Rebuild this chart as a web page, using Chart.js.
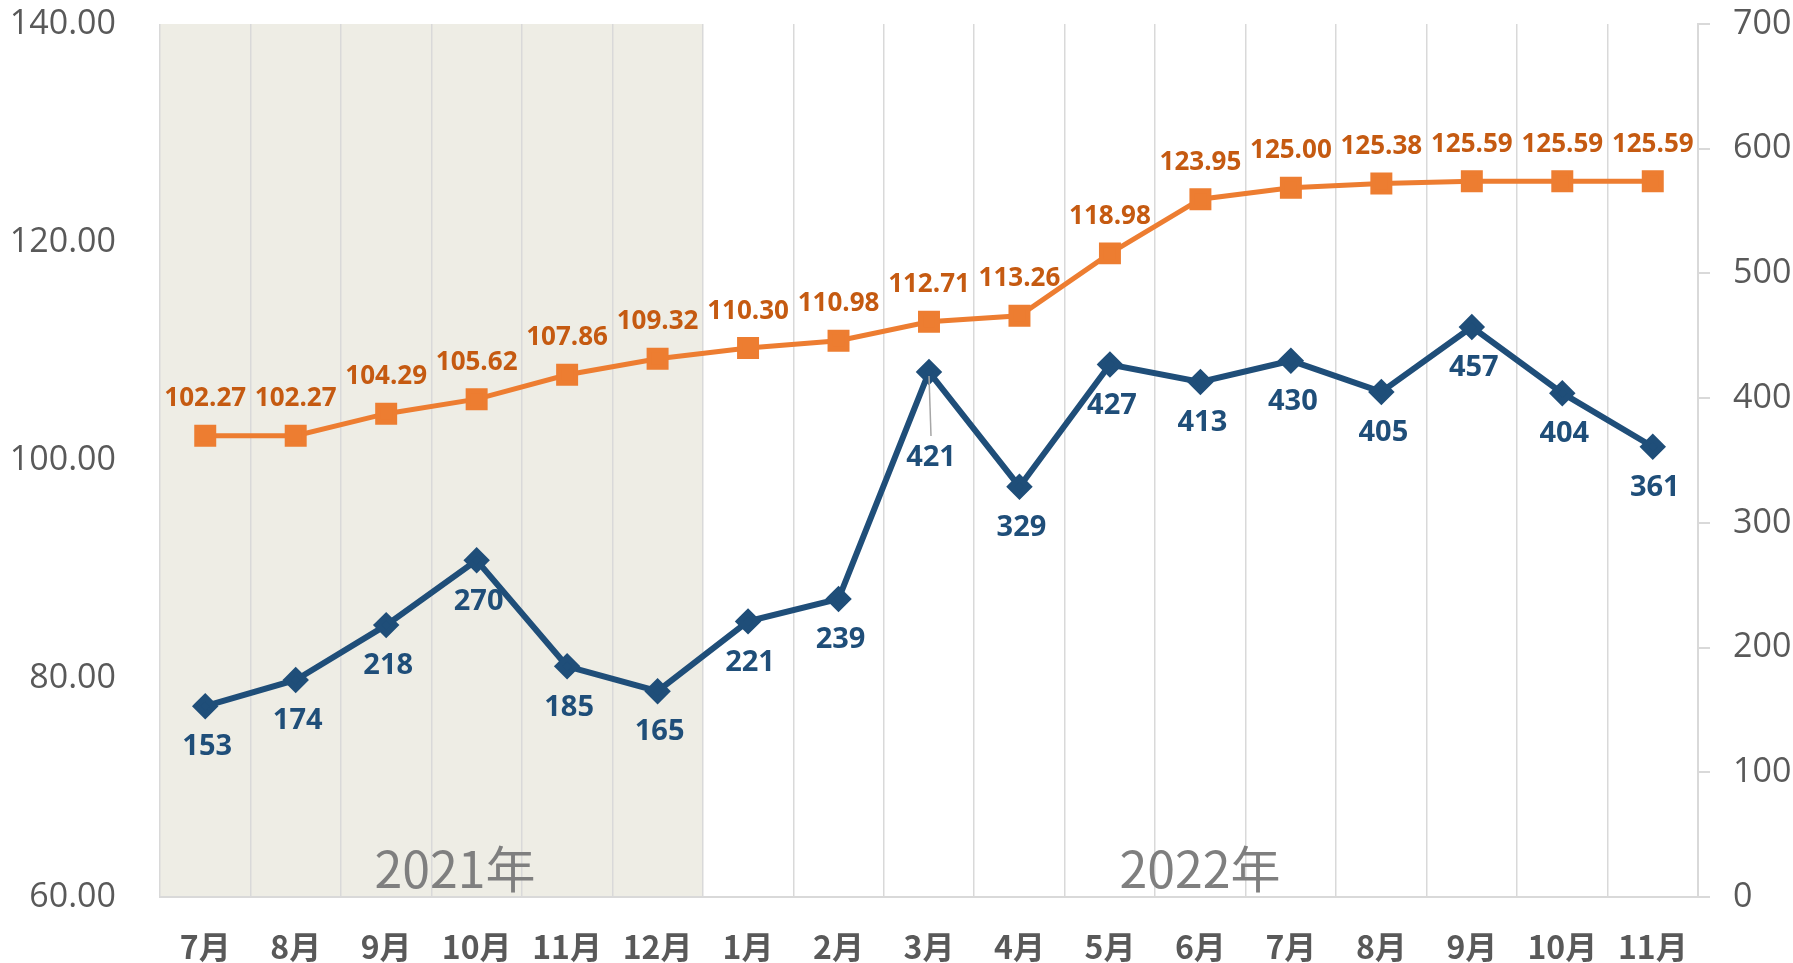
<!DOCTYPE html>
<html>
<head>
<meta charset="utf-8">
<script src="https://cdn.jsdelivr.net/npm/chart.js@4"></script>
<style>
  html, body { margin:0; padding:0; background:#fff; }
  #wrap { width:1793px; height:963px; }
</style>
</head>
<body>
<div id="wrap"><canvas id="c" width="1793" height="963"></canvas></div>
<script>
// données
const months = ['7月','8月','9月','10月','11月','12月','1月','2月','3月','4月','5月','6月','7月','8月','9月','10月','11月'];
const priceIndex = [102.27, 102.27, 104.29, 105.62, 107.86, 109.32, 110.30, 110.98, 112.71, 113.26, 118.98, 123.95, 125.00, 125.38, 125.59, 125.59, 125.59];
const counts = [153, 174, 218, 270, 185, 165, 221, 239, 421, 329, 427, 413, 430, 405, 457, 404, 361];
const yearLabels = ['2021年', '2022年'];
const yearSpans = [[0, 5], [6, 16]];   // index des mois de chaque année
const shadedYear = 0;                  // année sur fond grisé

const ORANGE = '#ED7D31', ORANGE_TXT = '#C55A11', BLUE = '#1F4E79';
const GRID = '#D9D9D9', AXIS_TXT = '#595959';
const NUM_FONT = "'Open Sans', 'Noto Sans CJK SC', sans-serif";
const CJK_FONT = "'Noto Sans CJK SC', 'Open Sans', sans-serif";

// fond grisé 2021 + libellés d'année
const yearPlugin = {
  id: 'years',
  beforeDraw(chart) {
    const { ctx, chartArea, scales: { x } } = chart;
    const half = (x.getPixelForValue(1) - x.getPixelForValue(0)) / 2;
    const [a, b] = yearSpans[shadedYear];
    ctx.save();
    ctx.fillStyle = '#EEEDE5';
    const x0 = x.getPixelForValue(a) - half, x1 = x.getPixelForValue(b) + half;
    ctx.fillRect(x0, chartArea.top, x1 - x0, chartArea.bottom - chartArea.top);
    ctx.restore();
  },
  afterDatasetsDraw(chart) {
    const { ctx, chartArea } = chart;
    ctx.save();
    ctx.font = "50px " + CJK_FONT;
    ctx.fillStyle = '#7F7F7F';
    ctx.textAlign = 'center';
    ctx.textBaseline = 'middle';
    const centers = [455, 1200];
    yearLabels.forEach((t, i) => ctx.fillText(t, centers[i], chartArea.bottom - 28));
    ctx.restore();
  }
};

// étiquettes de valeurs (au-dessus pour l'orange, en dessous pour le bleu)
const labelPlugin = {
  id: 'vlabels',
  afterDatasetsDraw(chart) {
    const ctx = chart.ctx;
    ctx.save();
    ctx.textAlign = 'center';
    ctx.textBaseline = 'middle';
    chart.data.datasets.forEach((ds, di) => {
      const meta = chart.getDatasetMeta(di);
      meta.data.forEach((pt, i) => {
        const v = ds.data[i];
        if (di === 0) {
          ctx.font = "bold 26px " + NUM_FONT;
          ctx.fillStyle = ORANGE_TXT;
          ctx.fillText(v.toFixed(2), pt.x, pt.y - 37);
        } else {
          ctx.font = "bold 29px " + NUM_FONT;
          ctx.fillStyle = BLUE;
          let off = 41;
          if (i === 8) { // étiquette décalée avec trait de rappel
            off = 86;
            ctx.strokeStyle = '#A6A6A6';
            ctx.lineWidth = 1.5;
            ctx.beginPath();
            ctx.moveTo(pt.x, pt.y + 4);
            ctx.lineTo(pt.x + 2, pt.y + off - 22);
            ctx.stroke();
          }
          ctx.fillText(String(v), pt.x + 2, pt.y + off);
        }
      });
    });
    ctx.restore();
  }
};

// largeur fixe de l'axe, sans marge verticale ajoutée par les libellés
const fixWidth = w => s => { s.width = w; s.paddingTop = 0; s.paddingBottom = 0; };

new Chart(document.getElementById('c'), {
  type: 'line',
  data: {
    labels: months,
    datasets: [
      { label: '指数', data: priceIndex, yAxisID: 'y', borderColor: ORANGE, backgroundColor: ORANGE,
        borderWidth: 5, pointStyle: 'rect', pointRadius: 12, pointHoverRadius: 12, tension: 0 },
      { label: '件数', data: counts, yAxisID: 'y1', borderColor: BLUE, backgroundColor: BLUE,
        borderWidth: 6, pointStyle: 'rectRot', pointRadius: 9, pointHoverRadius: 9, tension: 0 }
    ]
  },
  options: {
    responsive: false,
    animation: false,
    layout: { autoPadding: false, padding: { top: 24, left: 0, right: 0, bottom: 0 } },
    plugins: { legend: { display: false }, tooltip: { enabled: false } },
    scales: {
      x: {
        offset: true,
        grid: { offset: true, color: GRID, lineWidth: 1.5, drawTicks: false },
        border: { color: GRID, width: 2 },
        ticks: { font: { family: CJK_FONT, size: 32, weight: 'bold' }, color: AXIS_TXT, padding: 31, maxRotation: 0, autoSkip: false },
        afterFit: s => { s.height = 66; s.paddingLeft = 0; s.paddingRight = 0; }
      },
      y: {
        position: 'left', min: 60, max: 140,
        grid: { display: false, drawTicks: false },
        border: { display: false },
        ticks: { stepSize: 20, padding: 44, color: AXIS_TXT, font: { family: NUM_FONT, size: 34 }, callback: v => v.toFixed(2) },
        afterFit: fixWidth(160)
      },
      y1: {
        position: 'right', min: 0, max: 700,
        grid: { drawOnChartArea: false, color: GRID, lineWidth: 2, tickLength: 12 },
        border: { color: GRID, width: 2 },
        ticks: { stepSize: 100, padding: 23, color: AXIS_TXT, font: { family: NUM_FONT, size: 34 } },
        afterFit: fixWidth(95)
      }
    }
  },
  plugins: [yearPlugin, labelPlugin]
});
</script>
</body>
</html>
